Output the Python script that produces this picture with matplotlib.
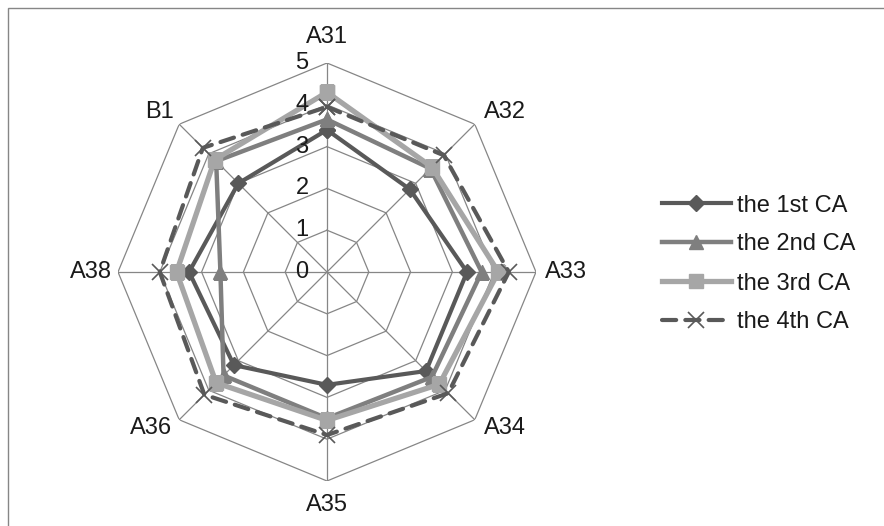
import numpy as np
import matplotlib
matplotlib.use("Agg")
import matplotlib.pyplot as plt
from matplotlib.transforms import offset_copy
from matplotlib.patches import Rectangle

plt.rcParams['font.family'] = ['Liberation Sans', 'DejaVu Sans']

categories = ["A31", "A32", "A33", "A34", "A35", "A36", "A38", "B1"]
series_names = ["the 1st CA", "the 2nd CA", "the 3rd CA", "the 4th CA"]
ca1 = [3.4, 2.8, 3.35, 3.35, 2.7, 3.15, 3.3, 3.0]
ca2 = [3.65, 3.5, 3.7, 3.55, 3.5, 3.5, 2.55, 3.75]
ca3 = [4.3, 3.55, 4.1, 3.8, 3.55, 3.75, 3.6, 3.8]
ca4 = [3.95, 3.95, 4.35, 4.1, 3.9, 4.15, 4.0, 4.2]
rticks = [0, 1, 2, 3, 4, 5]

W, H = 884, 526
fig = plt.figure(figsize=(W / 100, H / 100), dpi=100)
fig.patches.append(Rectangle((8 / W, -0.1), 1.2, (H - 8) / H + 0.1, transform=fig.transFigure,
                             fill=False, edgecolor='#868686', lw=1.0))

cx, cy, R = 327, 272, 209
ax = fig.add_axes([(cx - R) / W, (H - cy - R) / H, 2 * R / W, 2 * R / H], projection='polar')
ax.set_theta_zero_location('N')
ax.set_theta_direction(-1)
ax.set_ylim(0, 5)
ax.grid(False)
ax.spines['polar'].set_visible(False)
ax.set_xticks([])
ax.set_yticks([])
ax.patch.set_alpha(0)

n = len(categories)
angles = np.arange(n) * 2 * np.pi / n
closed = np.append(angles, angles[0])

# octagon gridlines and spokes
grid_c = '#868686'
for r in rticks[1:]:
    ax.plot(closed, [r] * (n + 1), color=grid_c, lw=0.9, zorder=1)
for a in angles:
    ax.plot([a, a], [0, 5], color=grid_c, lw=0.9, zorder=1)

styles = [
    dict(color='#595959', lw=3.0, ls='-', marker='D', ms=8.5),
    dict(color='#7f7f7f', lw=3.2, ls='-', marker='^', ms=9.5),
    dict(color='#a6a6a6', lw=3.8, ls='-', marker='s', ms=10.5),
    dict(color='#595959', lw=3.0, ls=(0, (3.4, 2.2)), marker='x', ms=11, mew=1.2),
]
for vals, name, st in zip([ca1, ca2, ca3, ca4], series_names, styles):
    v = np.append(vals, vals[0])
    ax.plot(closed, v, label=name, zorder=3, dash_capstyle='round', **st)

# radial tick labels
rt = offset_copy(ax.transData, fig=fig, x=-25, y=0, units='dots')
for r in rticks:
    ax.text(0, r, str(r), transform=rt, ha='center', va='center', fontsize=17, color='#1a1a1a')

# category labels
offsets = [(0, 26), (30, 12), (30, 0), (30, -8), (0, -24), (-28, -8), (-27, 0), (-20, 12)]
for a, lab, (dx, dy) in zip(angles, categories, offsets):
    tr = offset_copy(ax.transData, fig=fig, x=dx, y=dy, units='dots')
    ax.text(a, 5, lab, transform=tr, ha='center', va='center', fontsize=17, color='#1a1a1a')

fig.legend(loc='center left', bbox_to_anchor=(641 / W, 1 - 264 / H), frameon=False,
           fontsize=17, handlelength=2.9, handletextpad=0.25, labelspacing=0.72,
           labelcolor='#1a1a1a')

fig.savefig("out.png", dpi=100)
